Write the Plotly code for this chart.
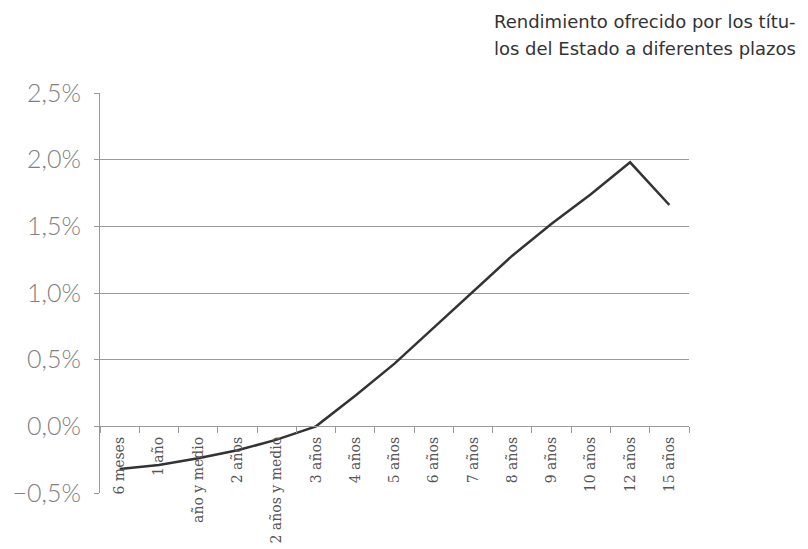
import plotly.graph_objects as go

categories = ["6 meses", "1 año", "año y medio", "2 años", "2 años y medio", "3 años",
              "4 años", "5 años", "6 años", "7 años", "8 años", "9 años",
              "10 años", "12 años", "15 años"]
yields = [-0.32, -0.29, -0.24, -0.18, -0.10, 0.0, 0.23, 0.47, 0.74, 1.01,
          1.28, 1.52, 1.74, 1.98, 1.66]
y_ticks = [-0.5, 0.0, 0.5, 1.0, 1.5, 2.0, 2.5]
title_lines = ["Rendimiento ofrecido por los títu-", "los del Estado a diferentes plazos"]

y_ticktext = [("−" if v < 0 else "") + f"{abs(v):.1f}".replace(".", ",") + "%" for v in y_ticks]

fig = go.Figure()
fig.add_trace(go.Scatter(x=categories, y=yields, mode="lines",
                         line=dict(color="#333333", width=2.5), showlegend=False))

ymin, ymax = -0.5, 2.5
plot_top, plot_h = 93, 400
fig.update_layout(
    width=808, height=549,
    margin=dict(l=100, r=119, t=plot_top, b=549 - plot_top - plot_h, autoexpand=False),
    paper_bgcolor="white", plot_bgcolor="white",
    xaxis=dict(
        type="category", anchor="free", position=(0 - ymin) / (ymax - ymin),
        showline=True, linecolor="#999999", linewidth=1,
        ticks="outside", tickson="boundaries", ticklen=6, tickcolor="#999999",
        tickangle=-90, showgrid=False, zeroline=False,
        tickfont=dict(family="DejaVu Serif", size=14, color="#555555"),
        ticklabelstandoff=4,
        range=[-0.5, len(categories) - 0.5], automargin=False,
    ),
    yaxis=dict(
        range=[ymin, ymax], tickvals=y_ticks, ticktext=y_ticktext,
        showline=True, linecolor="#999999", linewidth=1,
        ticks="outside", ticklen=5, tickcolor="#999999",
        showgrid=True, gridcolor="#999999", gridwidth=1, zeroline=False,
        tickfont=dict(family="Lato", size=25, color="#808080", weight=300),
        ticklabelstandoff=8, automargin=False,
    ),
    annotations=[
        dict(text=line, xref="paper", yref="paper",
             x=(492 - 100) / 589, y=1 + (plot_top - top) / plot_h,
             xanchor="left", yanchor="top", align="left", showarrow=False,
             font=dict(family="DejaVu Sans", size=18, color="#333333"))
        for line, top in zip(title_lines, [9, 36])
    ],
)
fig.write_html("out.html")
